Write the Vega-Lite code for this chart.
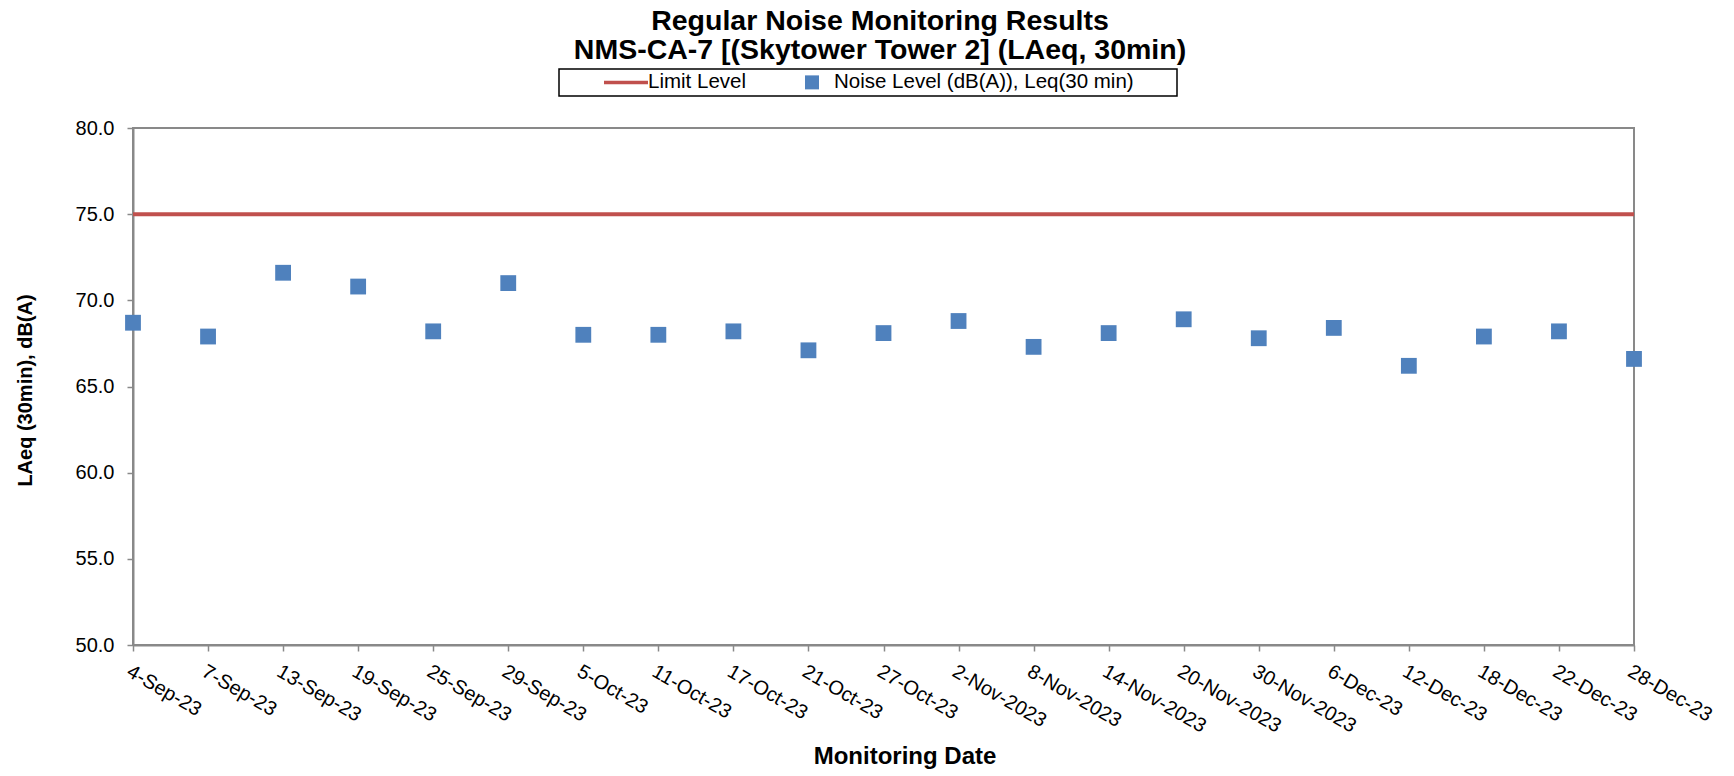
{
  "$schema": "https://vega.github.io/schema/vega-lite/v6.json",
  "width": 1501,
  "height": 517,
  "autosize": {"type": "none"},
  "padding": {"left": 133, "top": 128, "right": 100, "bottom": 131},
  "background": "white",
  "title": {
    "text": ["Regular Noise Monitoring Results", "NMS-CA-7 [(Skytower Tower 2] (LAeq, 30min)"],
    "fontSize": 28.5,
    "fontWeight": "bold",
    "lineHeight": 29,
    "color": "black",
    "anchor": "middle",
    "frame": "group",
    "dx": -3.5
  },
  "datasets": {
    "noise": [
      {"date": "4-Sep-23", "value": 68.7},
      {"date": "7-Sep-23", "value": 67.9},
      {"date": "13-Sep-23", "value": 71.6},
      {"date": "19-Sep-23", "value": 70.8},
      {"date": "25-Sep-23", "value": 68.2},
      {"date": "29-Sep-23", "value": 71.0},
      {"date": "5-Oct-23", "value": 68.0},
      {"date": "11-Oct-23", "value": 68.0},
      {"date": "17-Oct-23", "value": 68.2},
      {"date": "21-Oct-23", "value": 67.1},
      {"date": "27-Oct-23", "value": 68.1},
      {"date": "2-Nov-2023", "value": 68.8},
      {"date": "8-Nov-2023", "value": 67.3},
      {"date": "14-Nov-2023", "value": 68.1},
      {"date": "20-Nov-2023", "value": 68.9},
      {"date": "30-Nov-2023", "value": 67.8},
      {"date": "6-Dec-23", "value": 68.4},
      {"date": "12-Dec-23", "value": 66.2},
      {"date": "18-Dec-23", "value": 67.9},
      {"date": "22-Dec-23", "value": 68.2},
      {"date": "28-Dec-23", "value": 66.6}
    ],
    "limit": [{"limit": 75}]
  },
  "layer": [
    {
      "data": {"name": "limit"},
      "mark": {"type": "rule", "strokeWidth": 4},
      "encoding": {
        "y": {"field": "limit", "type": "quantitative", "scale": {"domain": [50, 80], "nice": false, "zero": false}},
        "color": {
          "datum": "Limit Level",
          "scale": {
            "domain": ["Limit Level", "Noise Level (dB(A)), Leq(30 min)"],
            "range": ["#C0504D", "#4F81BD"]
          },
          "legend": {
            "orient": "none",
            "legendX": 426,
            "legendY": -59,
            "direction": "horizontal",
            "columns": 2,
            "title": "\u200b\u00a0\u00a0\u00a0\u00a0\u00a0\u00a0\u00a0\u200b",
            "titleOrient": "left",
            "titleFontSize": 20,
            "titlePadding": 1,
            "labelFontSize": 20.5,
            "labelColor": "black",
            "labelLimit": 1000,
            "labelExpr": "datum.label == 'Limit Level' ? datum.label : datum.label + '\u00a0\u00a0\u00a0\u00a0\u00a0\u00a0\u00a0\u200b'",
            "padding": 3,
            "strokeColor": "black",
            "columnPadding": 42,
            "symbolSize": 196,
            "encode": {
              "symbols": {
                "update": {
                  "shape": {"signal": "datum.value === 'Limit Level' ? 'stroke' : 'square'"},
                  "size": {"signal": "datum.value === 'Limit Level' ? 1936 : 196"},
                  "x": {"value": 24},
                  "strokeWidth": {"signal": "datum.value === 'Limit Level' ? 3.5 : 0"},
                  "fill": {"signal": "datum.value === 'Limit Level' ? 'transparent' : '#4F81BD'"},
                  "stroke": {"signal": "datum.value === 'Limit Level' ? '#C0504D' : '#4F81BD'"},
                  "opacity": {"value": 1},
                  "fillOpacity": {"value": 1},
                  "strokeOpacity": {"value": 1}
                }
              },
              "labels": {"update": {"x": {"value": 46}}},
              "legend": {"update": {"strokeWidth": {"value": 1.5}}}
            }
          }
        }
      }
    },
    {
      "data": {"name": "noise"},
      "mark": {"type": "point", "shape": "square", "filled": true, "size": 250, "opacity": 1, "strokeWidth": 0},
      "encoding": {
        "x": {
          "field": "date",
          "type": "ordinal",
          "sort": null,
          "scale": {"type": "point", "padding": 0},
          "axis": {
            "title": "Monitoring Date",
            "titleFontSize": 24,
            "titleFontWeight": "bold",
            "titleColor": "black",
            "titleX": 771.5,
            "titleY": 118,
            "titleBaseline": "alphabetic",
            "labelAngle": 30,
            "labelAlign": "left",
            "labelBaseline": "top",
            "labelFontSize": 20,
            "labelPadding": 10,
            "labelOverlap": false,
            "labelBound": false,
            "labelColor": "black",
            "tickSize": 6
          }
        },
        "y": {
          "field": "value",
          "type": "quantitative",
          "scale": {"domain": [50, 80], "nice": false, "zero": false},
          "axis": {
            "title": "LAeq (30min), dB(A)",
            "titleFontSize": 20,
            "titleFontWeight": "bold",
            "titleColor": "black",
            "titleX": -108,
            "titleY": 262,
            "titleBaseline": "middle",
            "values": [50, 55, 60, 65, 70, 75, 80],
            "format": ".1f",
            "labelFontSize": 20,
            "labelPadding": 13,
            "labelColor": "black",
            "tickSize": 6
          }
        },
        "color": {
          "datum": "Noise Level (dB(A)), Leq(30 min)",
          "scale": {
            "domain": ["Limit Level", "Noise Level (dB(A)), Leq(30 min)"],
            "range": ["#C0504D", "#4F81BD"]
          },
          "legend": {
            "orient": "none",
            "legendX": 426,
            "legendY": -59,
            "direction": "horizontal",
            "columns": 2,
            "title": "\u200b\u00a0\u00a0\u00a0\u00a0\u00a0\u00a0\u00a0\u200b",
            "titleOrient": "left",
            "titleFontSize": 20,
            "titlePadding": 1,
            "labelFontSize": 20.5,
            "labelColor": "black",
            "labelLimit": 1000,
            "labelExpr": "datum.label == 'Limit Level' ? datum.label : datum.label + '\u00a0\u00a0\u00a0\u00a0\u00a0\u00a0\u00a0\u200b'",
            "padding": 3,
            "strokeColor": "black",
            "columnPadding": 42,
            "symbolSize": 196,
            "encode": {
              "symbols": {
                "update": {
                  "shape": {"signal": "datum.value === 'Limit Level' ? 'stroke' : 'square'"},
                  "size": {"signal": "datum.value === 'Limit Level' ? 1936 : 196"},
                  "x": {"value": 24},
                  "strokeWidth": {"signal": "datum.value === 'Limit Level' ? 3.5 : 0"},
                  "fill": {"signal": "datum.value === 'Limit Level' ? 'transparent' : '#4F81BD'"},
                  "stroke": {"signal": "datum.value === 'Limit Level' ? '#C0504D' : '#4F81BD'"},
                  "opacity": {"value": 1},
                  "fillOpacity": {"value": 1},
                  "strokeOpacity": {"value": 1}
                }
              },
              "labels": {"update": {"x": {"value": 46}}},
              "legend": {"update": {"strokeWidth": {"value": 1.5}}}
            }
          }
        }
      }
    }
  ],
  "config": {
    "font": "Liberation Sans",
    "view": {"stroke": "#898989", "strokeWidth": 2},
    "axis": {
      "grid": false,
      "domainColor": "#898989",
      "domainWidth": 2,
      "tickColor": "#898989",
      "tickWidth": 1.5
    }
  }
}
